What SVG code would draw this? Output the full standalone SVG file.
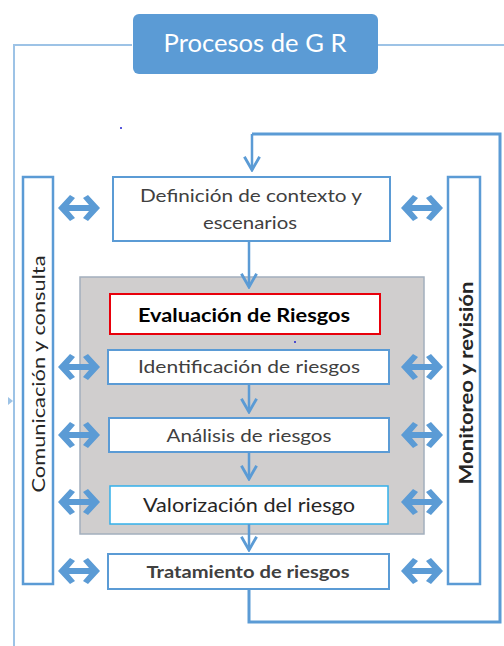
<svg xmlns="http://www.w3.org/2000/svg" xmlns:xlink="http://www.w3.org/1999/xlink" width="504" height="646" viewBox="0 0 504 646">
<style>
  .box { fill: #ffffff; stroke: #5B9BD5; stroke-width: 2; }
  .side { fill: #ffffff; stroke: #5B9BD5; stroke-width: 2.5; }
  .frame { fill: none; stroke: #9DC3E6; stroke-width: 2; }
  .loop { fill: none; stroke: #5B9BD5; stroke-width: 3; }
  .down { fill: none; stroke: #5B9BD5; stroke-width: 2.5; }
  .dbl { fill: #5B9BD5; }
  .t { font-family: Lato, "Liberation Sans", Arial, sans-serif; text-anchor: middle; fill: #404040; }
  .w { fill: #ffffff; }
  .k { fill: #000000; }
  .d { fill: #262626; }
</style>
<defs>
  <marker id="vhead" viewBox="0 0 20 20" refX="18" refY="10" markerWidth="19" markerHeight="19" markerUnits="userSpaceOnUse" orient="auto">
    <path d="M4,2 L18,10 L4,18" fill="none" stroke="#5B9BD5" stroke-width="3"/>
  </marker>
  <path id="dbl" d="M0,0 L12,-13 L17,-10 L11,-3 L31,-3 L25,-10 L30,-13 L42,0 L30,13 L25,10 L31,3 L11,3 L17,10 L12,13 Z"/>
</defs>

<g id="frame">
  <path class="frame" d="M132,45 H14 V646"/>
  <path class="frame" d="M378,45 H504"/>
  <path d="M8,397 L13,401 L8,405 Z" fill="#9DC3E6"/>
  <circle cx="121" cy="128" r="1" fill="#2020d0"/>
</g>

<g id="title">
  <rect x="133" y="14" width="245" height="60" rx="6" fill="#5B9BD5"/>
  <text class="t w" x="255" y="52" font-size="25" textLength="183" lengthAdjust="spacingAndGlyphs">Procesos de G R</text>
</g>

<g id="gray-area">
  <rect x="80" y="277" width="344" height="257" fill="#D0CECE" stroke="#A3AFBD" stroke-width="1.5"/>
  <circle cx="295" cy="342" r="1" fill="#2020d0"/>
</g>

<g id="comunicacion">
  <rect class="side" x="23" y="177" width="30" height="407"/>
  <text class="t d" transform="translate(45,374) rotate(-90)" font-size="18" textLength="237" lengthAdjust="spacingAndGlyphs">Comunicación y consulta</text>
</g>

<g id="monitoreo">
  <rect class="side" x="448" y="177" width="32" height="407"/>
  <text class="t d" transform="translate(473,383) rotate(-90)" font-size="19" font-weight="bold" textLength="203" lengthAdjust="spacingAndGlyphs">Monitoreo y revisión</text>
</g>

<g id="definicion">
  <rect class="box" x="113" y="177" width="277" height="64"/>
  <text class="t" x="251" y="202" font-size="18" textLength="222" lengthAdjust="spacingAndGlyphs">Definición de contexto y</text>
  <text class="t" x="250" y="229" font-size="18" textLength="94" lengthAdjust="spacingAndGlyphs">escenarios</text>
</g>

<g id="evaluacion">
  <rect x="110" y="294" width="270" height="40" fill="#ffffff" stroke="#E8000B" stroke-width="2"/>
  <text class="t k" x="244" y="322" font-size="19" font-weight="bold" textLength="212" lengthAdjust="spacingAndGlyphs">Evaluación de Riesgos</text>
</g>

<g id="identificacion">
  <rect class="box" x="108" y="350" width="281" height="34"/>
  <text class="t" x="249" y="373" font-size="18" textLength="222" lengthAdjust="spacingAndGlyphs">Identificación de riesgos</text>
</g>

<g id="analisis">
  <rect class="box" x="109" y="418" width="280" height="34"/>
  <text class="t" x="249" y="442" font-size="18" textLength="165" lengthAdjust="spacingAndGlyphs">Análisis de riesgos</text>
</g>

<g id="valorizacion">
  <rect x="110" y="486" width="278" height="38" fill="#ffffff" stroke="#33B0EA" stroke-width="1.5"/>
  <text class="t d" x="249" y="512" font-size="20" textLength="212" lengthAdjust="spacingAndGlyphs">Valorización del riesgo</text>
</g>

<g id="tratamiento">
  <rect class="box" x="108" y="554" width="281" height="35"/>
  <text class="t" x="248" y="578" font-size="17" font-weight="bold" textLength="203" lengthAdjust="spacingAndGlyphs">Tratamiento de riesgos</text>
</g>

<g id="connectors">
  <path class="loop" d="M249,589 V622 H500 V134 H252"/>
  <path class="down" d="M252,134 V170" marker-end="url(#vhead)"/>
  <path class="down" d="M249,242 V287" marker-end="url(#vhead)"/>
  <path class="down" d="M249,385 V412" marker-end="url(#vhead)"/>
  <path class="down" d="M249,453 V479" marker-end="url(#vhead)"/>
  <path class="down" d="M249,524 V550" marker-end="url(#vhead)"/>
  <g class="dbl">
    <use xlink:href="#dbl" x="58" y="208"/>
    <use xlink:href="#dbl" x="58" y="367"/>
    <use xlink:href="#dbl" x="58" y="435"/>
    <use xlink:href="#dbl" x="58" y="502"/>
    <use xlink:href="#dbl" x="58" y="571"/>
    <use xlink:href="#dbl" x="401" y="208"/>
    <use xlink:href="#dbl" x="401" y="367"/>
    <use xlink:href="#dbl" x="401" y="435"/>
    <use xlink:href="#dbl" x="401" y="502"/>
    <use xlink:href="#dbl" x="401" y="571"/>
  </g>
</g>
</svg>
